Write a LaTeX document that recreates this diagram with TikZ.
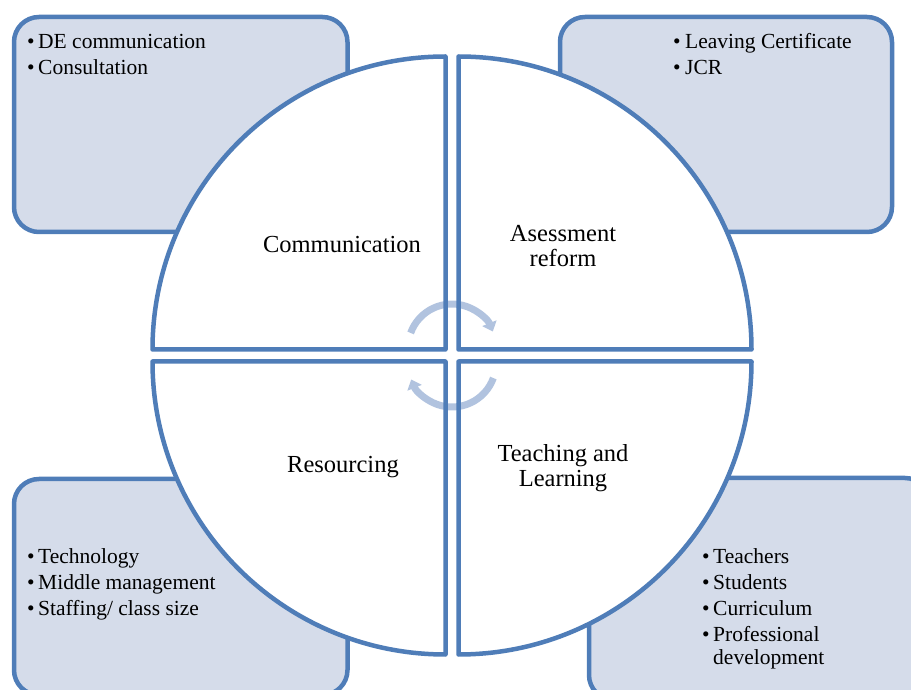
\documentclass[tikz,border=0pt]{standalone}
\usepackage{fontspec}
\setmainfont{Liberation Serif}
\usetikzlibrary{arrows.meta}
\definecolor{edgeblue}{HTML}{4F7DB8}
\definecolor{boxfill}{HTML}{D5DCEA}
\definecolor{cyclearrow}{HTML}{B1C3DF}
\tikzset{
  panel/.style={draw=edgeblue, fill=boxfill, line width=4.5pt, rounded corners=25pt},
  quarter/.style={draw=edgeblue, line width=4.5pt, line join=round},
  title/.style={align=center, font=\fontsize{24.5}{25}\selectfont},
  items/.style={inner sep=0pt, anchor=north west, font=\fontsize{21.5}{26}\selectfont},
  turn/.style={draw=cyclearrow, line width=7pt, -{Triangle[length=9pt,width=15pt]}}
}
\newcommand{\itm}{\textbullet &}
\begin{document}
\begin{tikzpicture}[x=1pt,y=1pt]
\useasboundingbox (0,0) rectangle (911,689);
\clip (0,0) rectangle (911,689);

% side panels
\draw[panel] (14,672) rectangle (347.5,457);
\draw[panel] (560,672) rectangle (892,457);
\draw[panel] (14,210) rectangle (347.5,-6);
\draw[panel] (589,211) rectangle (930,-11);

% the four quarters
\fill[white] (445.5,339.5) -- ++(-293,0) arc[start angle=180,end angle=90,radius=293] -- cycle;
\fill[white] (458.5,339.5) -- ++(0,293) arc[start angle=90,end angle=0,radius=293] -- cycle;
\fill[white] (445.5,327.5) -- ++(0,-293) arc[start angle=270,end angle=180,radius=293] -- cycle;
\fill[white] (458.5,327.5) -- ++(293,0) arc[start angle=0,end angle=-90,radius=293] -- cycle;

% cycle arrows
\draw[turn] (452,341) ++(160:44) arc[start angle=160,end angle=22,radius=44];
\draw[turn] (452,326) ++(-20:44) arc[start angle=-20,end angle=-158,radius=44];

\draw[quarter] (445.5,339.5) -- ++(-293,0) arc[start angle=180,end angle=90,radius=293] -- cycle;
\draw[quarter] (458.5,339.5) -- ++(0,293) arc[start angle=90,end angle=0,radius=293] -- cycle;
\draw[quarter] (445.5,327.5) -- ++(0,-293) arc[start angle=270,end angle=180,radius=293] -- cycle;
\draw[quarter] (458.5,327.5) -- ++(293,0) arc[start angle=0,end angle=-90,radius=293] -- cycle;

% quarter titles
\node[title] (comm) at (342,444) {Communication};
\node[title] (assess) at (563,443) {Asessment\\reform};
\node[title] (res) at (343,221.5) {Resourcing};
\node[title] (teach) at (563,220.5) {Teaching and\\Learning};

% panel lists
\node[items] (commlist) at (27,659) {\begin{tabular}{@{}p{11pt}@{}l@{}}
  \itm DE communication\\ \itm Consultation\end{tabular}};
\node[items] (assesslist) at (673,659) {\begin{tabular}{@{}p{12pt}@{}l@{}}
  \itm Leaving Certificate\\ \itm JCR\end{tabular}};
\node[items] (reslist) at (27,144) {\begin{tabular}{@{}p{11pt}@{}l@{}}
  \itm Technology\\ \itm Middle management\\ \itm Staffing/ class size\end{tabular}};
\node[items] (teachlist) at (702,144) {\begin{tabular}{@{}p{11pt}@{}l@{}}
  \itm Teachers\\ \itm Students\\ \itm Curriculum\\ \itm Professional\\[-3pt] & development\end{tabular}};
\end{tikzpicture}
\end{document}
